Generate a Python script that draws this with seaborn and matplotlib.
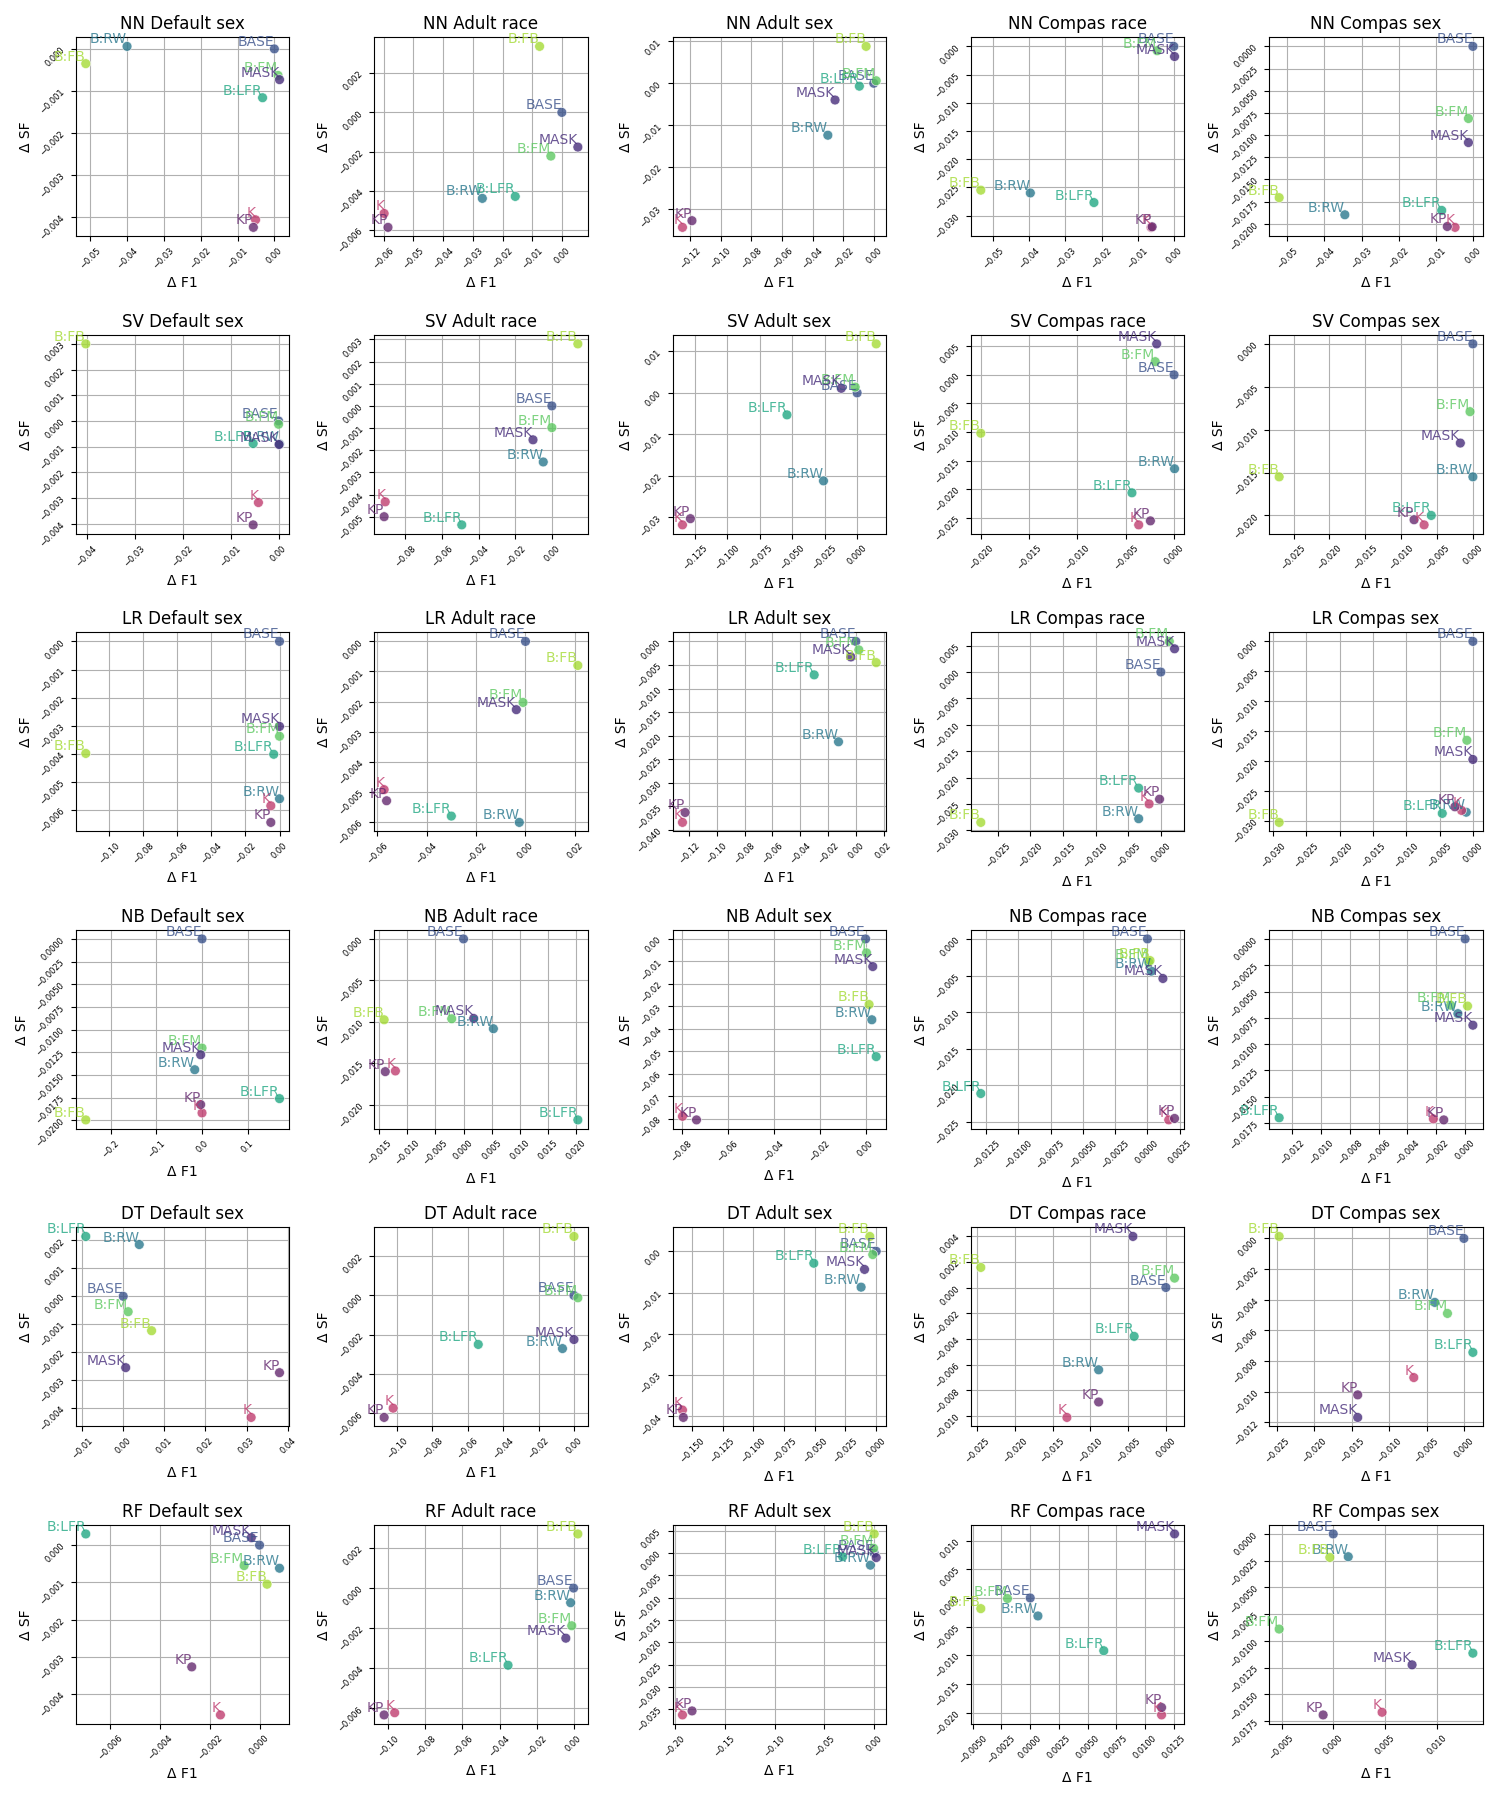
import numpy as np
import pandas as pd
import matplotlib
matplotlib.use("Agg")
import matplotlib.pyplot as plt
import seaborn as sns


methods = ['BASE', 'B:RW', 'B:LFR', 'B:FM', 'B:FB', 'MASK', 'K', 'KP']
models = ['NN', 'SV', 'LR', 'NB', 'DT', 'RF']
datasets = ['Default sex', 'Adult race', 'Adult sex', 'Compas race', 'Compas sex']

colors = {'BASE': '#3b528b', 'B:RW': '#2a788e', 'B:LFR': '#22a884',
          'B:FM': '#5ec962', 'B:FB': '#a5db36', 'MASK': '#472d7b',
          'K': '#c03d70', 'KP': '#652a70'}

# delta F1 / delta SF per model, order of values follows `methods`
NN_F1 = {
    'Default sex': [0, -0.040, -0.0032, 0.0010, -0.0512, 0.0014, -0.0051, -0.0057],
    'Adult race': [0, -0.0268, -0.0157, -0.0037, -0.0075, 0.0054, -0.0599, -0.0586],
    'Adult sex': [0, -0.030, -0.0094, 0.0016, -0.005, -0.0253, -0.125, -0.1188],
    'Compas race': [0, -0.0397, -0.0221, -0.0046, -0.0534, 0.0002, -0.0063, -0.0060],
    'Compas sex': [0, -0.0345, -0.0084, -0.0012, -0.0522, -0.0012, -0.0048, -0.0069],
}
NN_SF = {
    'Default sex': [0, 0.00006, -0.00116, -0.00063, -0.00035, -0.00073, -0.00406, -0.00424],
    'Adult race': [0, -0.00439, -0.00429, -0.00223, 0.00337, -0.00177, -0.00516, -0.00587],
    'Adult sex': [0, -0.0124, -0.0007, 0.0006, 0.0088, -0.0040, -0.0344, -0.0328],
    'Compas race': [0, -0.0260, -0.0277, -0.00077, -0.0255, -0.0018, -0.0321, -0.0320],
    'Compas sex': [0, -0.01898, -0.01849, -0.00813, -0.01705, -0.01084, -0.0204, -0.0203],
}

SV_F1 = {
    'Default sex': [0, 0.0002, -0.0053, 0.0, -0.0402, 0.0001, -0.0042, -0.0053],
    'Adult race': [0, -0.0047, -0.0492, 0.0, 0.0142, -0.0103, -0.091, -0.0916],
    'Adult sex': [0, -0.0259, -0.0540, -0.0015, 0.0147, -0.0122, -0.1345, -0.1284],
    'Compas race': [0, 0.00005, -0.00436, -0.00195, -0.0200, -0.0018, -0.00366, -0.00245],
    'Compas sex': [0, 0.0, -0.0058, -0.0004, -0.0270, -0.00175, -0.0068, -0.0082],
}
SV_SF = {
    'Default sex': [0, -0.0009, -0.00088, -0.00013, 0.0030, -0.00092, -0.00318, -0.00405],
    'Adult race': [0, -0.00253, -0.00537, -0.00098, 0.0028, -0.00153, -0.00433, -0.0050],
    'Adult sex': [0, -0.0212, -0.0053, 0.0014, 0.0118, 0.0011, -0.0318, -0.0303],
    'Compas race': [0, -0.0164, -0.0206, 0.0023, -0.0102, 0.0054, -0.0262, -0.0255],
    'Compas sex': [0, -0.0155, -0.0200, -0.0079, -0.0155, -0.01156, -0.0211, -0.0205],
}

LR_F1 = {
    'Default sex': [0, 0.0, -0.0034, 0.0, -0.1136, 0.0, -0.0051, -0.0051],
    'Adult race': [0, -0.0025, -0.030, -0.001, 0.0212, -0.0037, -0.0572, -0.0562],
    'Adult sex': [0, -0.0125, -0.030, 0.0021, 0.0146, -0.0036, -0.1247, -0.1228],
    'Compas race': [0, -0.0034, -0.0034, 0.0013, -0.0276, 0.0021, -0.0018, -0.0002],
    'Compas sex': [0, -0.001, -0.0046, -0.0009, -0.0291, 0.0, -0.0017, -0.0027],
}
LR_SF = {
    'Default sex': [0, -0.00559, -0.00401, -0.00337, -0.00398, -0.00302, -0.00584, -0.00643],
    'Adult race': [0, -0.00602, -0.00581, -0.00203, -0.0008, -0.00227, -0.00493, -0.0053],
    'Adult sex': [0, -0.0213, -0.0071, -0.0018, -0.0045, -0.0033, -0.0384, -0.0363],
    'Compas race': [0, -0.0278, -0.0220, 0.0058, -0.0285, 0.0044, -0.0250, -0.0241],
    'Compas sex': [0, -0.0285, -0.0287, -0.0165, -0.0302, -0.0197, -0.0282, -0.0276],
}

NB_F1 = {
    'Default sex': [0, -0.016, 0.170, 0.0, -0.255, -0.003, 0.0, -0.003],
    'Adult race': [0, 0.0053, 0.0203, -0.0021, -0.0141, 0.0018, -0.0121, -0.0139],
    'Adult sex': [0, 0.0027, 0.0046, 0.0004, 0.0015, 0.0031, -0.0796, -0.0735],
    'Compas race': [0, 0.0003, -0.0129, 0.0001, 0.0002, 0.0012, 0.00165, 0.0021],
    'Compas sex': [0, -0.0005, -0.0129, -0.001, 0.00017, 0.00054, -0.0022, -0.00148],
}
NB_SF = {
    'Default sex': [0, -0.01443, -0.01762, -0.01204, -0.01997, -0.01278, -0.0192, -0.01828],
    'Adult race': [0, -0.01084, -0.02185, -0.00964, -0.00976, -0.0096, -0.01594, -0.01602],
    'Adult sex': [0, -0.0360, -0.0524, -0.0062, -0.0292, -0.0123, -0.079, -0.0806],
    'Compas race': [0, -0.0044, -0.0211, -0.0032, -0.00295, -0.0054, -0.0247, -0.0245],
    'Compas sex': [0, -0.0071, -0.0170, -0.0063, -0.00638, -0.0082, -0.0171, -0.0172],
}

DT_F1 = {
    'Default sex': [0, 0.0039, -0.0091, 0.0012, 0.0069, 0.0006, 0.0311, 0.038],
    'Adult race': [0, -0.0065, -0.0541, 0.0022, 0.0, 0.0, -0.1022, -0.1073],
    'Adult sex': [0, -0.0123, -0.0508, -0.0028, -0.0052, -0.0095, -0.1577, -0.157],
    'Compas race': [0, -0.0089, -0.0042, 0.00115, -0.0245, -0.00436, -0.0131, -0.0089],
    'Compas sex': [0, -0.0039, 0.0012, -0.0022, -0.0247, -0.0142, -0.0067, -0.0142],
}
DT_SF = {
    'Default sex': [0, 0.00185, 0.00214, -0.00055, -0.00123, -0.00255, -0.00433, -0.00273],
    'Adult race': [0, -0.0027, -0.00249, -0.00012, 0.0030, -0.00224, -0.00573, -0.0062],
    'Adult sex': [0, -0.0087, -0.0029, -0.0008, 0.0036, -0.0044, -0.0385, -0.0403],
    'Compas race': [0, -0.0064, -0.0038, 0.00073, 0.00156, 0.00397, -0.0101, -0.0089],
    'Compas sex': [0, -0.00417, -0.00743, -0.00489, 0.00013, -0.01167, -0.00907, -0.0102],
}

RF_F1 = {
    'Default sex': [0, 0.0008, -0.00697, -0.00062, 0.0003, -0.00033, -0.00157, -0.00272],
    'Adult race': [0, -0.0016, -0.0354, -0.001, 0.0023, -0.0042, -0.0966, -0.1023],
    'Adult sex': [0, -0.0038, -0.0316, -0.0006, 0.0, 0.002, -0.1923, -0.1827],
    'Compas race': [0, 0.00067, 0.0064, -0.00198, -0.0043, 0.01256, 0.01143, 0.01143],
    'Compas sex': [0, 0.00145, 0.0135, -0.00523, -0.00033, 0.00762, 0.00472, -0.00098],
}
RF_SF = {
    'Default sex': [0, -0.00062, 0.0003, -0.00055, -0.00105, 0.0002, -0.00456, -0.00327],
    'Adult race': [0, -0.00073, -0.00385, -0.00188, 0.0027, -0.0025, -0.00622, -0.00633],
    'Adult sex': [0, -0.0027, -0.0008, 0.0011, 0.0043, -0.001, -0.0363, -0.0354],
    'Compas race': [0, -0.00314, -0.0092, -0.0001, -0.00186, 0.01116, -0.0204, -0.0191],
    'Compas sex': [0, -0.00213, -0.01116, -0.0089, -0.00219, -0.01225, -0.01669, -0.01694],
}

f1_all = {'NN': NN_F1, 'SV': SV_F1, 'LR': LR_F1, 'NB': NB_F1, 'DT': DT_F1, 'RF': RF_F1}
sf_all = {'NN': NN_SF, 'SV': SV_SF, 'LR': LR_SF, 'NB': NB_SF, 'DT': DT_SF, 'RF': RF_SF}


fig, axes = plt.subplots(nrows=6, ncols=5, figsize=(15, 18))

for i, model in enumerate(models):
  for j, ds in enumerate(datasets):
    ax = axes[i, j]
    df = pd.DataFrame({'method': methods,
                       'dF1': f1_all[model][ds],
                       'dSF': sf_all[model][ds]})
    sns.scatterplot(data=df, x='dF1', y='dSF', hue='method', palette=colors,
                    s=50, alpha=0.8, edgecolor='white', linewidth=0.5,
                    legend=False, ax=ax, zorder=3)
    for _, row in df.iterrows():
      ax.text(row.dF1, row.dSF, row.method, color=colors[row.method], alpha=0.8,
              fontsize=10, ha='right', va='bottom', zorder=4)
    ax.set_title(model + ' ' + ds, fontsize=12)
    ax.set_xlabel('Δ F1', fontsize=10)
    ax.set_ylabel('Δ SF', fontsize=10)
    ax.tick_params(axis='both', labelsize=6, labelrotation=45)
    ax.grid(True, zorder=0)
    ax.set_axisbelow(True)

plt.tight_layout()
plt.savefig('out.png', dpi=100)
